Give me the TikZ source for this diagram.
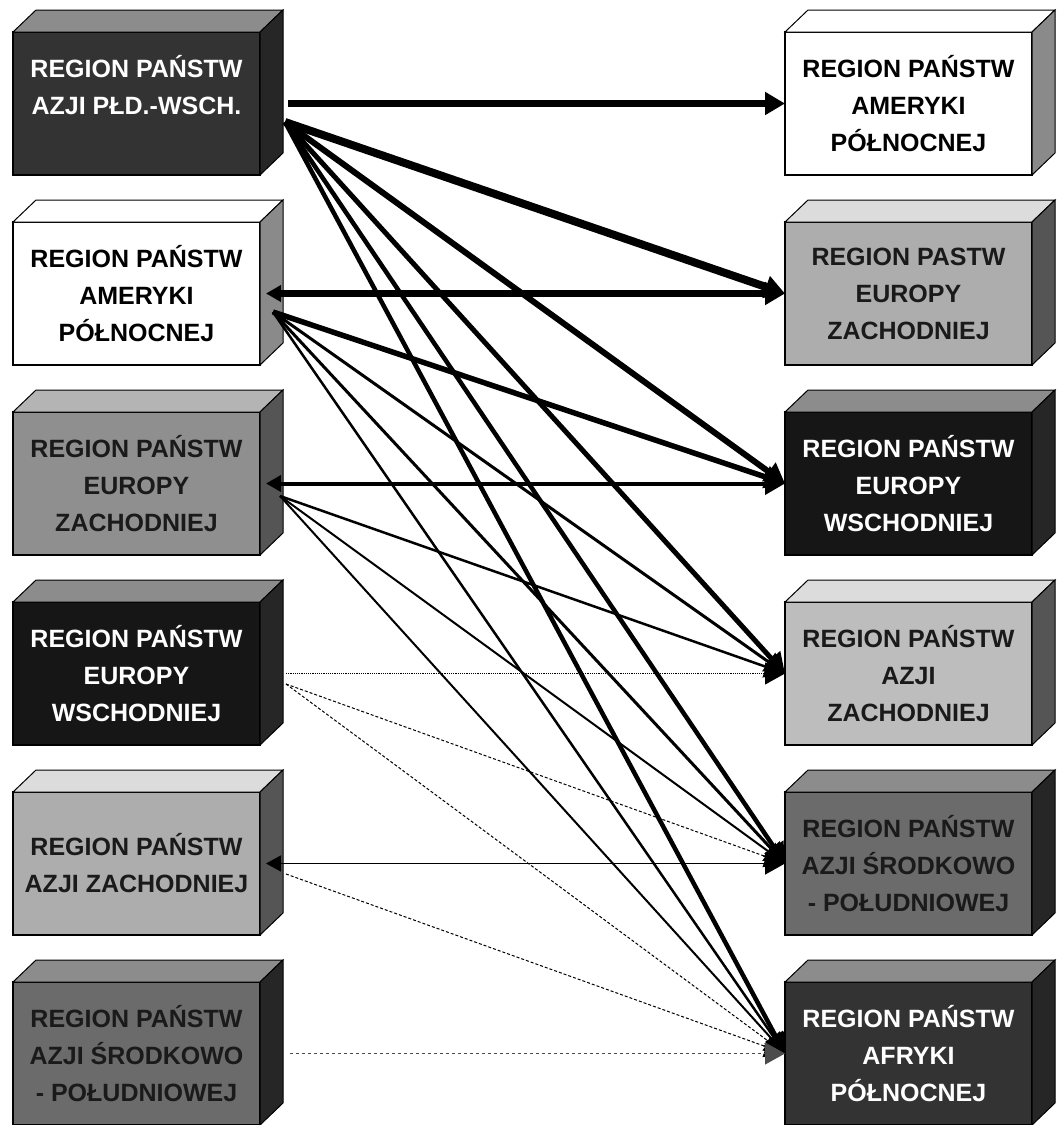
\documentclass[tikz,border=0pt]{standalone}
\usepackage{fontspec}
\setmainfont{Liberation Sans}
\usetikzlibrary{arrows.meta}
\definecolor{faceblack}{HTML}{161616}
\definecolor{facedark}{HTML}{333333}
\definecolor{facemid}{HTML}{6B6B6B}
\definecolor{facegray}{HTML}{8F8F8F}
\definecolor{facelight}{HTML}{ADADAD}
\definecolor{facepale}{HTML}{BDBDBD}
\definecolor{topgray}{HTML}{8C8C8C}
\definecolor{toplight}{HTML}{B4B4B4}
\definecolor{toppale}{HTML}{DCDCDC}
\definecolor{sidedark}{HTML}{262626}
\definecolor{sidemid}{HTML}{555555}
\definecolor{sidegray}{HTML}{8A8A8A}
\definecolor{textdark}{HTML}{1A1A1A}

\begin{document}
\begin{tikzpicture}[x=1pt, y=-1pt,
    box/.style={draw=black, line width=1.5pt, outer sep=0pt, inner sep=2pt,
        minimum width=247pt, minimum height=143pt, align=center,
        font=\fontsize{25}{37}\selectfont\bfseries},
    flow/.style={line width=#1, -{Triangle[length=20pt,width=22pt]}},
    twoway/.style={line width=#1, {Triangle[length=15pt,width=16pt]}-{Triangle[length=20pt,width=22pt]}}]
    \fill[white] (0,0) rectangle (1059,1125);
    \useasboundingbox (0,0) rectangle (1059,1125);

    % left column
    \node[box, fill=facedark, text=white] (l1) at (136.5,103.5) {REGION PAŃSTW\\AZJI PŁD.-WSCH.\\ \mbox{}};
    \node[box, fill=white, text=black] (l2) at (136.5,293.5) {REGION PAŃSTW\\AMERYKI\\PÓŁNOCNEJ};
    \node[box, fill=facegray, text=textdark] (l3) at (136.5,483.5) {REGION PAŃSTW\\EUROPY\\ZACHODNIEJ};
    \node[box, fill=faceblack, text=white] (l4) at (136.5,673.5) {REGION PAŃSTW\\EUROPY\\WSCHODNIEJ};
    \node[box, fill=facelight, text=textdark] (l5) at (136.5,863.5) {REGION PAŃSTW\\AZJI ZACHODNIEJ};
    \node[box, fill=facemid, text=textdark] (l6) at (136.5,1053.5) {REGION PAŃSTW\\AZJI ŚRODKOWO\\- POŁUDNIOWEJ};

    % right column
    \node[box, fill=white, text=black] (r1) at (908.5,103.5) {REGION PAŃSTW\\AMERYKI\\PÓŁNOCNEJ};
    \node[box, fill=facelight, text=textdark] (r2) at (908.5,293.5) {REGION PASTW\\EUROPY\\ZACHODNIEJ};
    \node[box, fill=faceblack, text=white] (r3) at (908.5,483.5) {REGION PAŃSTW\\EUROPY\\WSCHODNIEJ};
    \node[box, fill=facepale, text=textdark] (r4) at (908.5,673.5) {REGION PAŃSTW\\AZJI\\ZACHODNIEJ};
    \node[box, fill=facemid, text=textdark] (r5) at (908.5,863.5) {REGION PAŃSTW\\AZJI ŚRODKOWO\\- POŁUDNIOWEJ};
    \node[box, fill=facedark, text=white] (r6) at (908.5,1053.5) {REGION PAŃSTW\\AFRYKI\\PÓŁNOCNEJ};

    % top and side faces
    \foreach \b/\t/\s in {l1/topgray/sidedark, l2/white/sidegray, l3/toplight/sidemid,
        l4/topgray/sidedark, l5/toppale/sidemid, l6/topgray/sidedark,
        r1/white/sidegray, r2/toppale/sidemid, r3/topgray/sidedark,
        r4/toppale/sidemid, r5/topgray/sidedark, r6/topgray/sidedark} {
        \filldraw[fill=\t, line width=1pt] (\b.north west) -- ++(23,-22) -- ++(247,0) -- (\b.north east) -- cycle;
        \filldraw[fill=\s, line width=1pt] (\b.north east) -- ++(23,-22) -- ++(0,143) -- (\b.south east) -- cycle;
    }

    \coordinate (l1h) at (288,103.5);
    \coordinate (l1o) at (285,122);
    \coordinate (l2h) at (266,293.5);
    \coordinate (l2o) at (273,312);
    \coordinate (l3h) at (266,483.5);
    \coordinate (l3o) at (280,496);
    \coordinate (l4h) at (286,673.5);
    \coordinate (l4o) at (286,684);
    \coordinate (l5h) at (266,863.5);
    \coordinate (l5o) at (286,874);
    \coordinate (l6h) at (290,1053.5);

    % flows
    \draw[flow=7pt] (l1h) -- (r1.west);
    \draw[flow=8pt] (l1o) -- (r2.west);
    \draw[twoway=6.5pt] (l2h) -- (r2.west);
    \draw[flow=6pt] (l1o) -- (r3.west);
    \draw[flow=5.5pt] (l2o) -- (r3.west);
    \draw[twoway=4pt] (l3h) -- (r3.west);
    \draw[flow=5pt] (l1o) -- (r4.west);
    \draw[flow=3pt] (l2o) -- (r4.west);
    \draw[flow=2.5pt] (l3o) -- (r4.west);
    \draw[flow=1.2pt, densely dotted] (l4h) -- (r4.west);
    \draw[flow=4.5pt] (l1o) -- (r5.west);
    \draw[flow=3pt] (l2o) -- (r5.west);
    \draw[flow=2pt] (l3o) -- (r5.west);
    \draw[flow=1pt, densely dashed] (l4o) -- (r5.west);
    \draw[twoway=1.5pt] (l5h) -- (r5.west);
    \draw[flow=4.5pt] (l1o) -- (r6.west);
    \draw[flow=2.5pt] (l2o) -- (r6.west);
    \draw[flow=2pt] (l3o) -- (r6.west);
    \draw[flow=1pt, densely dashed] (l4o) -- (r6.west);
    \draw[flow=1pt, densely dashed] (l5o) -- (r6.west);
    \draw[flow=1pt, dashed, gray!60!black] (l6h) -- (r6.west);
\end{tikzpicture}
\end{document}
